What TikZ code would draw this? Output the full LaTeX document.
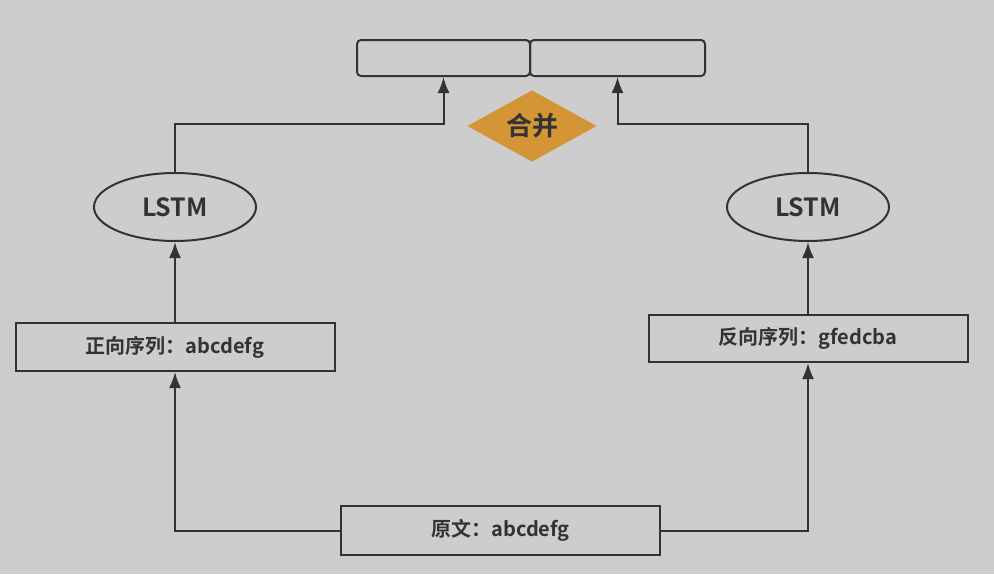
\documentclass[tikz,border=0pt]{standalone}
\usepackage{fontspec}
\setmainfont{Noto Sans CJK SC}[BoldFont={* Bold}]
\usetikzlibrary{shapes.geometric,arrows.meta}
\definecolor{bggray}{HTML}{CDCDCD}
\definecolor{linegray}{HTML}{333333}
\definecolor{mergeorange}{HTML}{D39535}
\tikzset{
  topbox/.style={draw=linegray, rounded corners=4pt, minimum height=36pt, inner sep=0pt},
  seqbox/.style={draw=linegray, minimum width=319pt, minimum height=48pt, inner sep=0pt,
    text=linegray, font=\fontsize{20}{22}\selectfont\bfseries},
  lstm/.style={draw=linegray, ellipse, minimum width=162pt, minimum height=68pt, inner sep=0pt,
    text=linegray, font=\fontsize{25}{28}\selectfont\bfseries},
  merge/.style={diamond, fill=mergeorange, minimum width=130pt, minimum height=72pt, aspect=1.8,
    inner sep=0pt, text=linegray, font=\fontsize{26}{28}\selectfont\bfseries}
}
\begin{document}
\begin{tikzpicture}[x=1pt, y=-1pt, line width=2pt, >={Latex[length=16pt,width=12pt]}]
  \fill[bggray] (0,0) rectangle (994,574);
  \useasboundingbox (0,0) rectangle (994,574);

  % Output
  \node[topbox, minimum width=173pt] (t1) at (443.5,58) {};
  \node[topbox, minimum width=175pt] (t2) at (617.5,58) {};
  \node[merge] (m) at (532,126) {合并};

  % LSTM
  \node[lstm] (l1) at (175,207) {LSTM};
  \node[lstm] (l2) at (808,207) {LSTM};

  % Sequences
  \node[seqbox] (s1) at (175,347) {正向序列：abcdefg};
  \node[seqbox, minimum height=47pt] (s2) at (808,338.5) {反向序列：gfedcba};
  \node[seqbox, minimum height=49pt] (src) at (500.5,530.5) {原文：abcdefg};

  \coordinate (c1) at (175,124);
  \coordinate (c2) at (808,124);

  \draw[->, draw=linegray] (src.west) -| (s1.south);
  \draw[->, draw=linegray] (src.east) -| (s2.south);

  \draw[->, draw=linegray] (s1.north) -- (l1.south);
  \draw[->, draw=linegray] (s2.north) -- (l2.south);

  \draw[->, draw=linegray] (l1.north) -- (c1) -| (t1.south);
  \draw[->, draw=linegray] (l2.north) -- (c2) -| (t2.south);
\end{tikzpicture}
\end{document}
